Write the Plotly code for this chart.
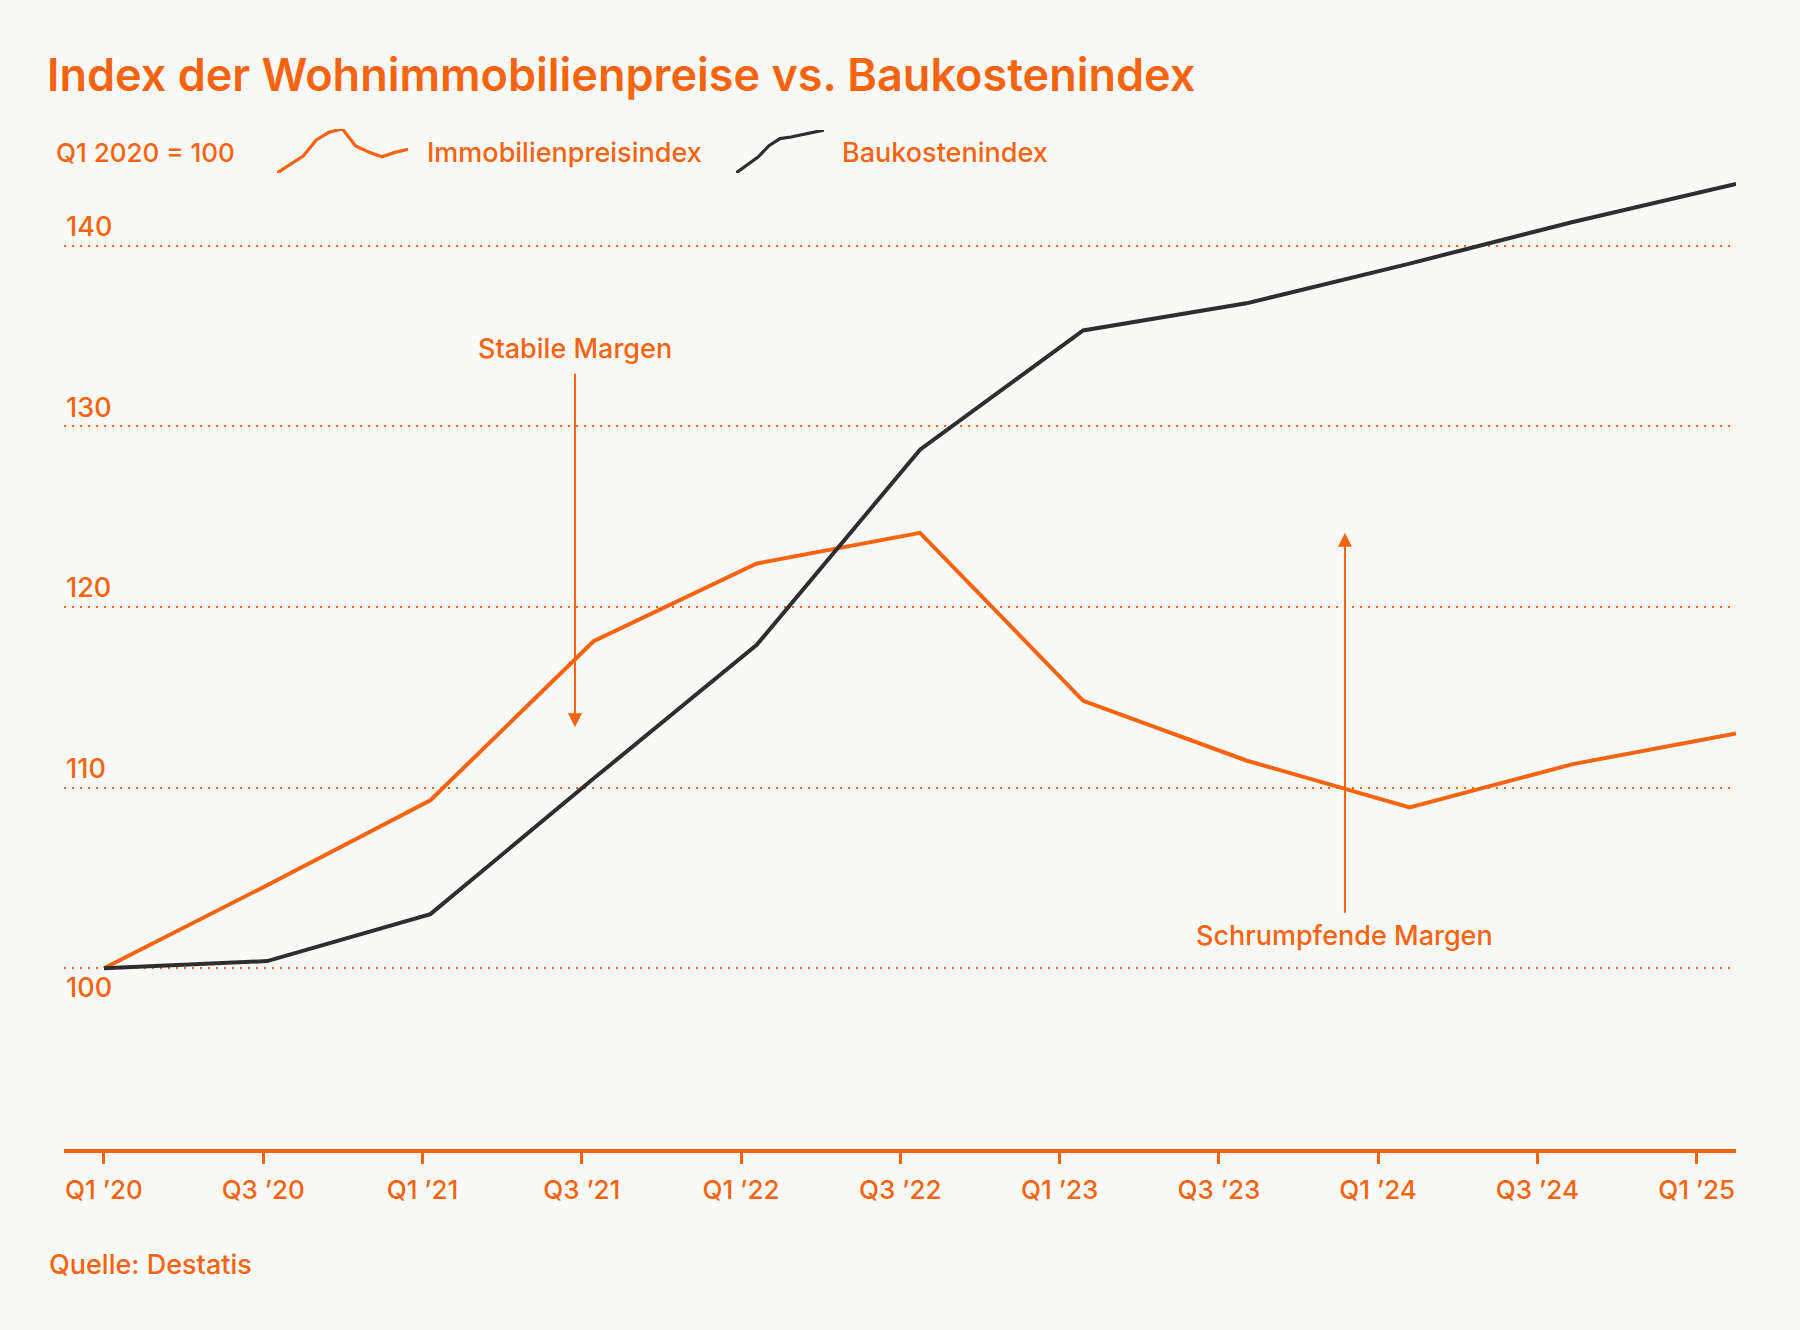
import plotly.graph_objects as go

# ---------------- data ----------------
periods = ["Q1 2020", "Q3 2020", "Q1 2021", "Q3 2021", "Q1 2022", "Q3 2022",
           "Q1 2023", "Q3 2023", "Q1 2024", "Q3 2024", "Q1 2025"]
immobilienpreisindex = [100, 104.6, 109.3, 118.1, 122.4, 124.1, 114.8, 111.5, 108.9, 111.3, 113.0]
baukostenindex = [100, 100.4, 103.0, 110.5, 117.9, 128.7, 135.3, 136.8, 139.0, 141.3, 143.4]
tick_labels = ["Q1 ’20", "Q3 ’20", "Q1 ’21", "Q3 ’21", "Q1 ’22", "Q3 ’22",
               "Q1 ’23", "Q3 ’23", "Q1 ’24", "Q3 ’24", "Q1 ’25"]
y_ticks = [100, 110, 120, 130, 140]

# ---------------- style ----------------
ORANGE = "#F7640F"
DARK = "#2E2E2E"
BG = "#F9F9F8"
FONT = "Inter"

W, H = 1800, 1330
ML, MR, MT, MB = 64, 64, 110, 181
PW, PH = W - ML - MR, H - MT - MB

def px(x):
    return (x - ML) / PW

def py(y):
    return (H - MB - y) / PH

xs = list(range(len(periods)))
TICK_STEP = 0.9759

fig = go.Figure()
fig.add_trace(go.Scatter(x=xs, y=immobilienpreisindex, mode="lines",
                         line=dict(color=ORANGE, width=4), name="Immobilienpreisindex",
                         hoverinfo="skip"))
fig.add_trace(go.Scatter(x=xs, y=baukostenindex, mode="lines",
                         line=dict(color=DARK, width=4), name="Baukostenindex",
                         hoverinfo="skip"))
# legend icons: mini versions of the series
fig.add_trace(go.Scatter(x=xs, y=immobilienpreisindex, mode="lines", xaxis="x2", yaxis="y2",
                         line=dict(color=ORANGE, width=3.2), hoverinfo="skip"))
fig.add_trace(go.Scatter(x=xs[2:], y=baukostenindex[2:], mode="lines", xaxis="x3", yaxis="y3",
                         line=dict(color=DARK, width=3.2), hoverinfo="skip"))

LBL = dict(family=FONT, size=27, color=ORANGE, weight=500)

annotations = []
for v in y_ticks:
    annotations.append(dict(x=0, xref="paper", y=v, yref="y", text=str(v), showarrow=False,
                            xanchor="left", yanchor="middle", yshift=(-19 if v == 100 else 19),
                            font=LBL))

# legend row
annotations += [
    dict(x=px(54), y=py(153), xref="paper", yref="paper", text="Q1 2020 = 100", showarrow=False,
         xanchor="left", yanchor="middle", font=dict(LBL, size=26)),
    dict(x=px(425), y=py(153), xref="paper", yref="paper", text="Immobilienpreisindex", showarrow=False,
         xanchor="left", yanchor="middle", font=LBL),
    dict(x=px(840), y=py(153), xref="paper", yref="paper", text="Baukostenindex", showarrow=False,
         xanchor="left", yanchor="middle", font=LBL),
]

# callouts
annotations += [
    dict(x=2.886, y=134.3, xref="x", yref="y", text="Stabile Margen", showarrow=False,
         xanchor="center", yanchor="middle", font=LBL),
    dict(x=2.886, y=113.34, ax=2.886, ay=132.98, xref="x", yref="y", axref="x", ayref="y",
         text="", showarrow=True, arrowhead=2, arrowsize=1.4, arrowwidth=2, arrowcolor=ORANGE,
         standoff=0, startstandoff=0),
    dict(x=7.604, y=101.83, xref="x", yref="y", text="Schrumpfende Margen", showarrow=False,
         xanchor="center", yanchor="middle", font=LBL),
    dict(x=7.604, y=124.11, ax=7.604, ay=102.99, xref="x", yref="y", axref="x", ayref="y",
         text="", showarrow=True, arrowhead=2, arrowsize=1.4, arrowwidth=2, arrowcolor=ORANGE,
         standoff=0, startstandoff=0),
    dict(x=px(47), y=py(1264), xref="paper", yref="paper", text="Quelle: Destatis", showarrow=False,
         xanchor="left", yanchor="middle", font=LBL),
]

fig.update_layout(
    width=W, height=H,
    margin=dict(l=ML, r=MR, t=MT, b=MB),
    paper_bgcolor=BG, plot_bgcolor=BG,
    showlegend=False,
    title=dict(text="Index der Wohnimmobilienpreise vs. Baukostenindex",
               x=47 / W, xanchor="left", xref="container",
               y=1 - 75 / H, yanchor="middle", yref="container",
               font=dict(family=FONT, size=45, color=ORANGE, weight=600)),
    xaxis=dict(range=[-0.245, 10], tickvals=[k * TICK_STEP for k in range(len(tick_labels))],
               ticktext=tick_labels, showgrid=False, zeroline=False,
               showline=True, linecolor=ORANGE, linewidth=4,
               ticks="outside", ticklen=11, tickwidth=3, tickcolor=ORANGE,
               tickfont=dict(family=FONT, size=26, color=ORANGE, weight=500),
               ticklabelstandoff=4, fixedrange=True),
    yaxis=dict(range=[90, 90 + PH / 18.07], tickvals=y_ticks, showticklabels=False,
               showgrid=True, gridcolor=ORANGE, gridwidth=1.5, griddash="2px,6px",
               zeroline=False, showline=False, ticks="", fixedrange=True),
    xaxis2=dict(domain=[px(277), px(408)], range=[0, 10], anchor="y2", visible=False),
    yaxis2=dict(domain=[py(173), py(129)], range=[100, 124.1], anchor="x2", visible=False),
    xaxis3=dict(domain=[px(736), px(824)], range=[2, 10], anchor="y3", visible=False),
    yaxis3=dict(domain=[py(173), py(130)], range=[103.0, 143.4], anchor="x3", visible=False),
    annotations=annotations,
)

fig.write_html("out.html")
